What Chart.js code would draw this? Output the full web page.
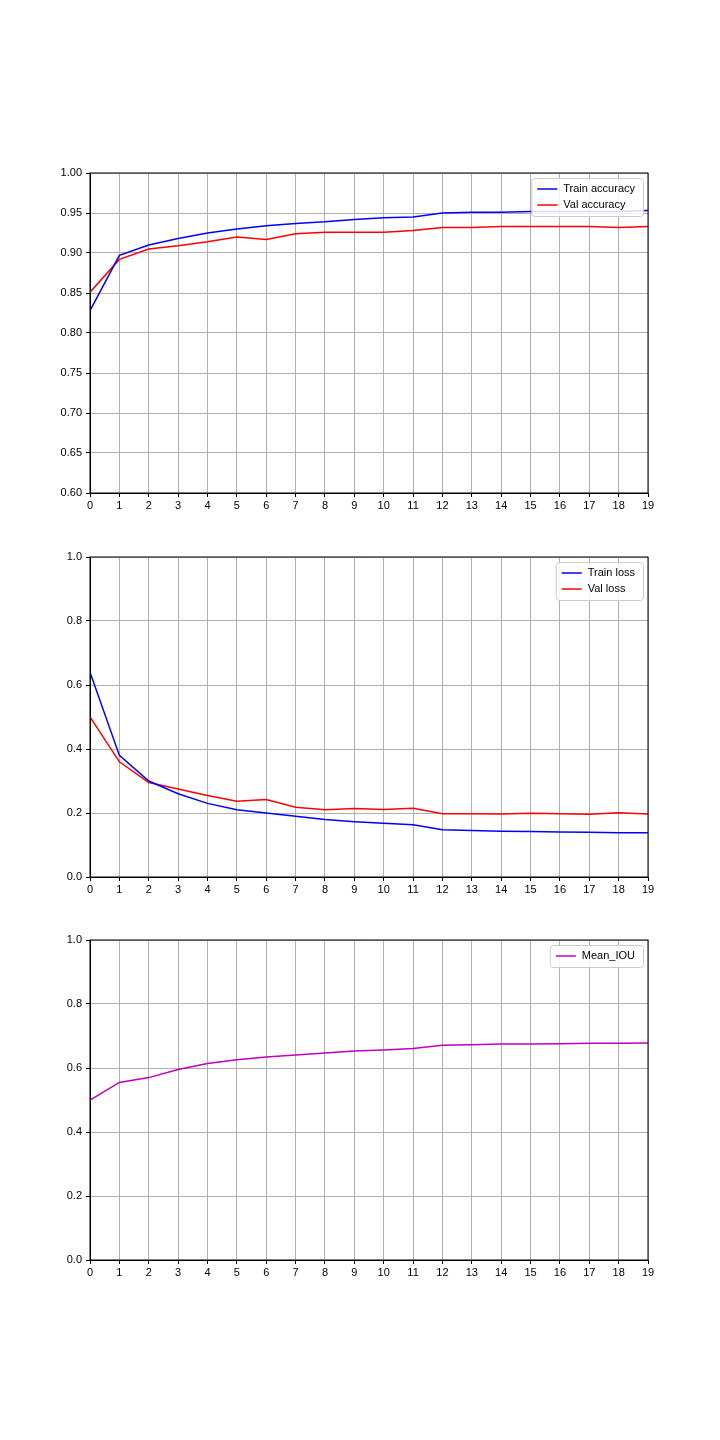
<!DOCTYPE html>
<html>
<head>
<meta charset="utf-8">
<script src="https://cdn.jsdelivr.net/npm/chart.js@4/dist/chart.umd.min.js"></script>
<style>
  body { margin: 0; background: #fff; width: 720px; height: 1440px; position: relative; }
  .box { position: absolute; left: 0; width: 720px; height: 384px; }
</style>
</head>
<body>
<div class="box" style="top:150px"><canvas id="accChart"></canvas></div>
<div class="box" style="top:534px"><canvas id="lossChart"></canvas></div>
<div class="box" style="top:917px"><canvas id="iouChart"></canvas></div>
<script>
// epochs
const epochs = [0,1,2,3,4,5,6,7,8,9,10,11,12,13,14,15,16,17,18,19];

const trainAcc = [0.828,0.897,0.910,0.918,0.925,0.930,0.934,0.937,0.939,0.942,0.944,0.945,0.950,0.951,0.951,0.952,0.952,0.952,0.952,0.953];
const valAcc = [0.851,0.892,0.905,0.909,0.914,0.920,0.917,0.924,0.926,0.926,0.926,0.928,0.932,0.932,0.933,0.933,0.933,0.933,0.932,0.933];

const trainLoss = [0.64,0.38,0.30,0.26,0.23,0.21,0.20,0.19,0.18,0.173,0.168,0.163,0.148,0.145,0.143,0.142,0.141,0.140,0.138,0.138];
const valLoss = [0.50,0.36,0.295,0.275,0.255,0.237,0.242,0.218,0.21,0.214,0.211,0.215,0.198,0.198,0.197,0.199,0.198,0.196,0.201,0.197];

const meanIou = [0.50,0.555,0.570,0.595,0.614,0.626,0.634,0.641,0.647,0.653,0.656,0.661,0.671,0.673,0.675,0.675,0.676,0.677,0.677,0.678];

const FONT = { family: 'Liberation Sans', size: 11 };

// legend box inside the plot, top right, plus the full black frame
const insideLegend = {
    id: 'insideLegend',
    afterDraw(chart) {
        const ctx = chart.ctx;
        const area = chart.chartArea;
        const sets = chart.data.datasets;
        ctx.save();
        ctx.strokeStyle = '#000';
        ctx.lineWidth = 1;
        ctx.strokeRect(area.left, area.top, area.right - area.left, area.bottom - area.top);
        ctx.font = '11px "Liberation Sans"';
        const textW = Math.max(...sets.map(s => ctx.measureText(s.label).width));
        const w = 8 + 20 + 6 + textW + 6;
        const h = 6 + sets.length * 16;
        const x = area.right - 5 - w;
        const y = area.top + 5;
        ctx.fillStyle = 'rgba(255,255,255,0.85)';
        ctx.strokeStyle = '#cccccc';
        ctx.beginPath();
        ctx.roundRect(x + 0.5, y + 0.5, w, h, 3);
        ctx.fill();
        ctx.stroke();
        sets.forEach((s, i) => {
            const cy = y + 11 + i * 16;
            ctx.strokeStyle = s.borderColor;
            ctx.lineWidth = 1.5;
            ctx.beginPath();
            ctx.moveTo(x + 6, cy);
            ctx.lineTo(x + 26, cy);
            ctx.stroke();
            ctx.fillStyle = '#000';
            ctx.textBaseline = 'middle';
            ctx.fillText(s.label, x + 32, cy);
        });
        ctx.restore();
    }
};

function makeChart(id, datasets, yMin, yMax, yStep, digits) {
    return new Chart(document.getElementById(id), {
        type: 'line',
        data: {
            datasets: datasets.map(d => ({
                label: d.label,
                data: epochs.map((e, i) => ({ x: e, y: d.values[i] })),
                borderColor: d.color,
                borderWidth: 1.5,
                pointRadius: 0,
                tension: 0
            }))
        },
        options: {
            responsive: true,
            maintainAspectRatio: false,
            animation: false,
            layout: { padding: { top: 23, right: 72, bottom: 0, left: 0 } },
            scales: {
                x: {
                    type: 'linear', min: 0, max: 19,
                    ticks: { stepSize: 1, color: '#000', font: FONT, padding: 2 },
                    grid: { color: '#b0b0b0', tickLength: 4, tickColor: '#000' },
                    border: { color: '#000' },
                    afterFit(scale) { scale.height = 41; }
                },
                y: {
                    min: yMin, max: yMax,
                    ticks: {
                        stepSize: yStep, color: '#000', font: FONT, padding: 4,
                        callback: v => Number(v).toFixed(digits)
                    },
                    grid: { color: '#b0b0b0', tickLength: 4, tickColor: '#000' },
                    border: { color: '#000' },
                    afterFit(scale) { scale.width = 90; }
                }
            },
            plugins: { legend: { display: false }, tooltip: { enabled: false } }
        },
        plugins: [insideLegend]
    });
}

makeChart('accChart', [
    { label: 'Train accuracy', values: trainAcc, color: '#0000ff' },
    { label: 'Val accuracy', values: valAcc, color: '#ff0000' }
], 0.6, 1.0, 0.05, 2);

makeChart('lossChart', [
    { label: 'Train loss', values: trainLoss, color: '#0000ff' },
    { label: 'Val loss', values: valLoss, color: '#ff0000' }
], 0, 1, 0.2, 1);

makeChart('iouChart', [
    { label: 'Mean_IOU', values: meanIou, color: '#bf00bf' }
], 0, 1, 0.2, 1);
</script>
</body>
</html>
